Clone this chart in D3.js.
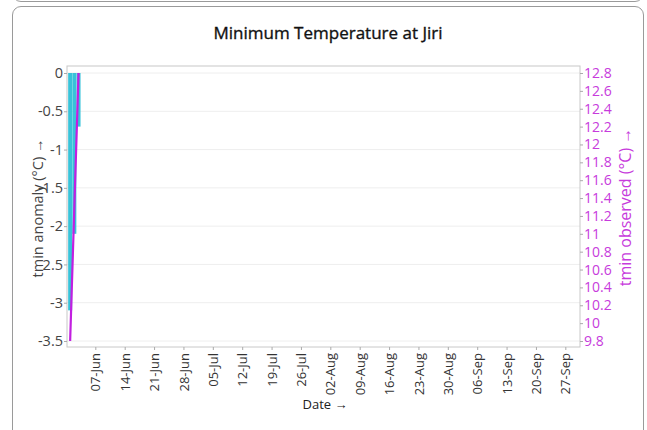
<!DOCTYPE html>
<html>
<head>
<meta charset="utf-8">
<script src="https://cdn.jsdelivr.net/npm/d3@7"></script>
<style>
  body { margin: 0; background: #fff; font-family: "Open Sans", "Noto Sans", sans-serif; }
  .card { position: absolute; left: 12px; top: 6px; width: 632px; height: 440px; border: 1px solid #9a9a9a; border-radius: 9px; box-sizing: border-box; }
  .prev { position: absolute; left: 12px; top: -40px; width: 632px; height: 42px; border: 1px solid #9a9a9a; border-radius: 9px; box-sizing: border-box; }
  svg { position: absolute; left: 0; top: 0; }
</style>
</head>
<body>
<div class="prev"></div>
<div class="card"></div>
<div id="chart"></div>
<script>
// data
const dates = ["2023-06-01", "2023-06-02", "2023-06-03"];
const anomaly = [-3.1, -2.1, -0.7];
const observed = [9.8, 11.3, 12.8];
const leftTicks = [0, -0.5, -1, -1.5, -2, -2.5, -3, -3.5];
const rightTicks = [12.8, 12.6, 12.4, 12.2, 12, 11.8, 11.6, 11.4, 11.2, 11, 10.8, 10.6, 10.4, 10.2, 10, 9.8];
const tickDates = ["2023-06-07", "2023-06-14", "2023-06-21", "2023-06-28", "2023-07-05", "2023-07-12",
  "2023-07-19", "2023-07-26", "2023-08-02", "2023-08-09", "2023-08-16", "2023-08-23",
  "2023-08-30", "2023-09-06", "2023-09-13", "2023-09-20", "2023-09-27"];

const W = 647, H = 430;
const plot = {left: 67, right: 580, top: 66, bottom: 347};
const magenta = "#c73bdc";
const cyan = "#22bdd5";

const parse = d3.timeParse("%Y-%m-%d");
const x = d3.scaleTime()
    .domain([new Date(2023, 4, 31, 6), new Date(2023, 8, 30, 12)])
    .range([plot.left, plot.right]);
const yL = d3.scaleLinear().domain([-3.5, 0]).range([341, 73]);
const yR = d3.scaleLinear().domain([9.8, 12.8]).range([341, 73]);

const svg = d3.select("#chart").append("svg")
    .attr("width", W)
    .attr("height", H);

// title
svg.append("text")
    .attr("x", 328).attr("y", 39)
    .attr("text-anchor", "middle")
    .attr("font-size", 17)
    .attr("fill", "#111")
    .attr("stroke", "#111")
    .attr("stroke-width", 0.35)
    .text("Minimum Temperature at Jiri");

// grid
svg.append("g").selectAll("line")
    .data(leftTicks)
    .enter().append("line")
    .attr("x1", plot.left).attr("x2", plot.right)
    .attr("y1", d => yL(d)).attr("y2", d => yL(d))
    .attr("stroke", "#eeeeee");

// bars
const bw = 4;
svg.append("g").selectAll("rect")
    .data(dates)
    .enter().append("rect")
    .attr("x", d => x(parse(d)) - bw / 2)
    .attr("width", bw)
    .attr("y", yL(0))
    .attr("height", (d, i) => yL(anomaly[i]) - yL(0))
    .attr("fill", cyan)
    .attr("opacity", 0.9);

// observed line
const line = d3.line()
    .x((d, i) => x(parse(dates[i])))
    .y(d => yR(d));
svg.append("path")
    .datum(observed)
    .attr("d", line)
    .attr("fill", "none")
    .attr("stroke", "#c21fe0")
    .attr("stroke-width", 2.2);

// frame
svg.append("rect")
    .attr("x", plot.left).attr("y", plot.top)
    .attr("width", plot.right - plot.left)
    .attr("height", plot.bottom - plot.top)
    .attr("fill", "none")
    .attr("stroke", "#c8c8c8");

// left axis
const gL = svg.append("g")
    .attr("transform", "translate(" + plot.left + ",0)")
    .call(d3.axisLeft(yL).tickValues(leftTicks).tickSize(3).tickFormat(d => String(d)));
gL.select(".domain").remove();
gL.selectAll("line").attr("stroke", "#aaa");
gL.selectAll("text").attr("font-size", 14.5).attr("fill", "#444")
    .attr("font-family", "Open Sans").attr("x", -4);

// right axis
const gR = svg.append("g")
    .attr("transform", "translate(" + plot.right + ",0)")
    .call(d3.axisRight(yR).tickValues(rightTicks).tickSize(3).tickFormat(d => String(d)));
gR.select(".domain").remove();
gR.selectAll("line").attr("stroke", "#aaa");
gR.selectAll("text").attr("font-size", 14).attr("fill", magenta)
    .attr("font-family", "Open Sans").attr("x", 4);

// bottom axis
const gB = svg.append("g")
    .attr("transform", "translate(0," + plot.bottom + ")")
    .call(d3.axisBottom(x).tickValues(tickDates.map(parse)).tickSize(3).tickFormat(d3.timeFormat("%d-%b")));
gB.select(".domain").remove();
gB.selectAll("line").attr("stroke", "#aaa");
gB.selectAll("text")
    .attr("font-size", 13)
    .attr("fill", "#333")
    .attr("font-family", "Open Sans")
    .attr("text-anchor", "end")
    .attr("transform", "rotate(-90)")
    .attr("x", -6)
    .attr("y", 0)
    .attr("dy", "0.35em");

// axis titles
svg.append("text")
    .attr("transform", "translate(43,208) rotate(-90)")
    .attr("text-anchor", "middle")
    .attr("font-size", 14.5)
    .attr("fill", "#444")
    .text("tmin anomaly (°C) →");

svg.append("text")
    .attr("transform", "translate(631,207) rotate(-90)")
    .attr("text-anchor", "middle")
    .attr("font-size", 16)
    .attr("fill", magenta)
    .text("tmin observed (°C) →");

svg.append("text")
    .attr("x", 325).attr("y", 409)
    .attr("text-anchor", "middle")
    .attr("font-size", 13)
    .attr("fill", "#222")
    .text("Date →");
</script>
</body>
</html>
